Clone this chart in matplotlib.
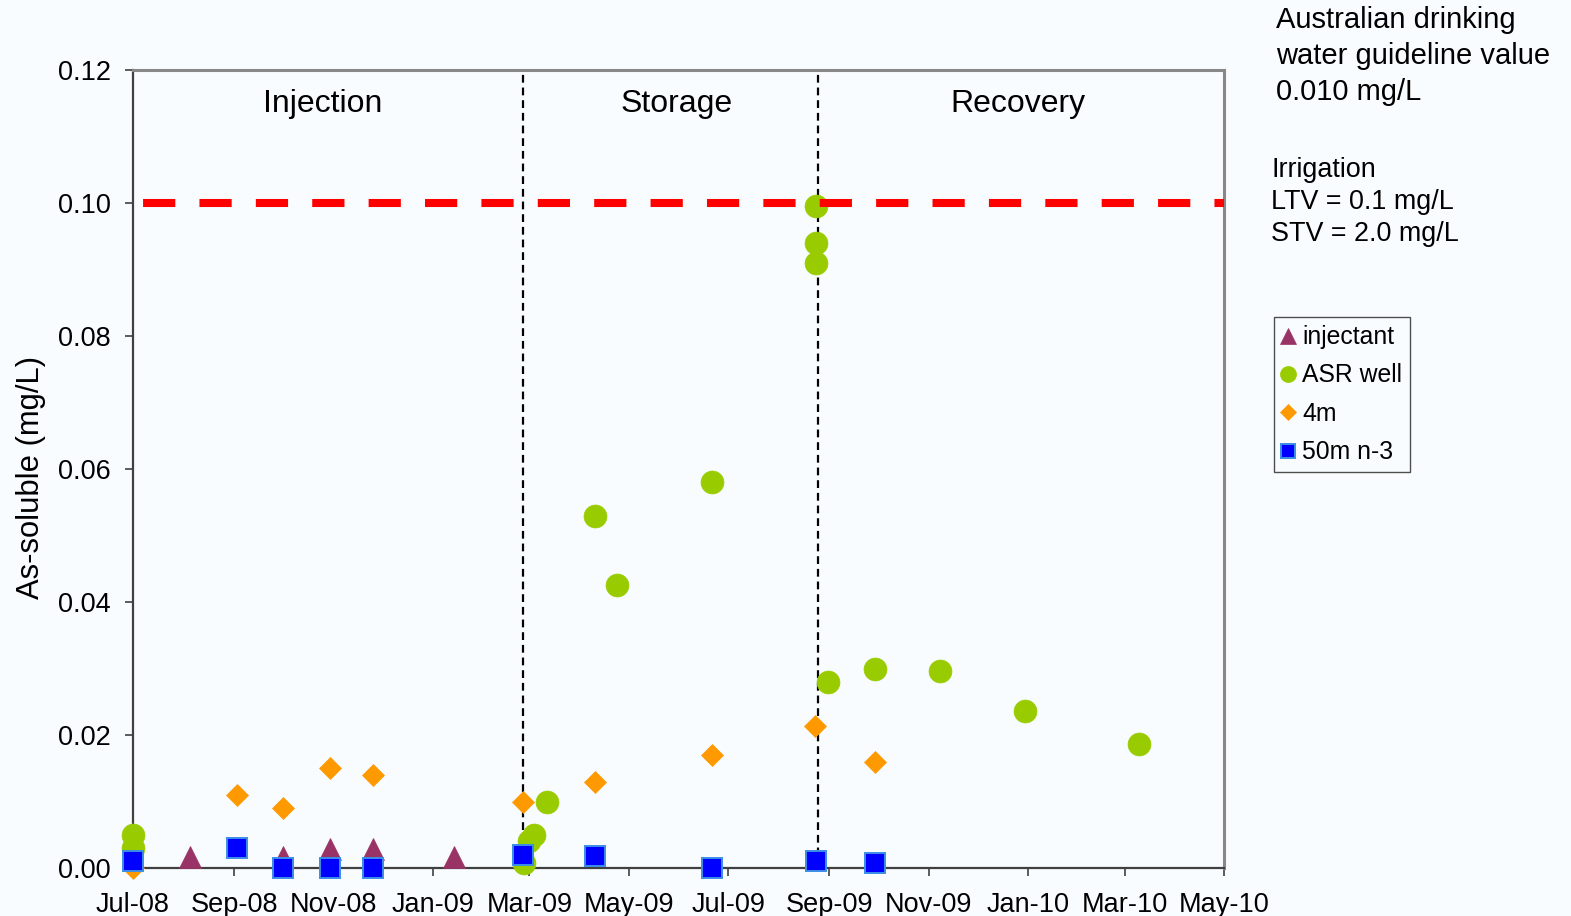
import matplotlib
matplotlib.use("Agg")
import matplotlib.pyplot as plt
import matplotlib.dates as mdates
import numpy as np

plt.rcParams['font.family'] = ['Liberation Sans', 'DejaVu Sans']

# --- data -------------------------------------------------------------
injectant_dates = ["2008-08-05", "2008-10-01", "2008-10-30", "2008-11-25", "2009-01-14"]
injectant_vals = [0.0016, 0.0016, 0.0028, 0.0028, 0.0016]

asr_dates = ["2008-07-01", "2008-07-01", "2009-02-26", "2009-03-01", "2009-03-04",
             "2009-03-12", "2009-04-10", "2009-04-24", "2009-06-21", "2009-08-24",
             "2009-08-24", "2009-08-24", "2009-08-31", "2009-09-29", "2009-11-08",
             "2009-12-30", "2010-03-10"]
asr_vals = [0.005, 0.003, 0.0007, 0.004, 0.005,
            0.010, 0.053, 0.0425, 0.058, 0.0995,
            0.094, 0.091, 0.028, 0.030, 0.0296,
            0.0236, 0.0187]

m4_dates = ["2008-07-01", "2008-09-03", "2008-10-01", "2008-10-30", "2008-11-25",
            "2009-02-25", "2009-04-10", "2009-06-21", "2009-08-23", "2009-09-29"]
m4_vals = [0.0, 0.011, 0.009, 0.015, 0.014,
           0.010, 0.013, 0.017, 0.0213, 0.016]

m50_dates = ["2008-07-01", "2008-09-03", "2008-10-01", "2008-10-30", "2008-11-25",
             "2009-02-25", "2009-04-10", "2009-06-21", "2009-08-24", "2009-09-29"]
m50_vals = [0.001, 0.003, 0.0, 0.0, 0.0,
            0.002, 0.0018, 0.0, 0.001, 0.0008]

phase_bounds = ["2009-02-25", "2009-08-25"]
phase_labels = ["Injection", "Storage", "Recovery"]
irrigation_ltv = 0.10

x_start, x_end = "2008-07-01", "2010-05-01"


def to_dates(lst):
    return [np.datetime64(d) for d in lst]


# --- figure -----------------------------------------------------------
W, H = 1571, 916
fig = plt.figure(figsize=(W / 100, H / 100), dpi=100)
bg = '#f9fcfe'
fig.patch.set_facecolor(bg)
ax = fig.add_axes([133 / W, 1 - 868 / H, (1224 - 133) / W, (868 - 70) / H])
ax.set_facecolor(bg)

# phase boundaries
for d in phase_bounds:
    ax.axvline(np.datetime64(d), color='black', lw=1.6, ls=(0, (3.5, 2.2)), zorder=1)

# series
ax.plot(to_dates(injectant_dates), injectant_vals, ls='none', marker='^', ms=16,
        mfc='#993366', mec='#993366', mew=0.5, label='injectant', zorder=3, clip_on=False)
ax.plot(to_dates(asr_dates), asr_vals, ls='none', marker='o', ms=16.5,
        mfc='#99cc00', mec='#99cc00', mew=0.5, label='ASR well', zorder=4, clip_on=False)
ax.plot(to_dates(m4_dates), m4_vals, ls='none', marker='D', ms=11.5,
        mfc='#ff9900', mec='#ff9900', mew=0.5, label='4m', zorder=5, clip_on=False)
ax.plot(to_dates(m50_dates), m50_vals, ls='none', marker='s', ms=15,
        mfc='#0000ff', mec='#3a8ee6', mew=1.4, label='50m n-3', zorder=6, clip_on=False)

# irrigation long-term trigger value
ax.axhline(irrigation_ltv, color='#ff0000', lw=5.8, ls=(5.75, (4, 3)),
           dash_capstyle='butt', zorder=7)

# axes
ax.set_xlim(np.datetime64(x_start), np.datetime64(x_end))
ax.set_ylim(0, 0.12)
ax.set_yticks(np.arange(0, 0.121, 0.02))
ax.yaxis.set_major_formatter(matplotlib.ticker.FormatStrFormatter('%.2f'))
ax.xaxis.set_major_locator(mdates.MonthLocator(bymonth=[1, 3, 5, 7, 9, 11]))
ax.xaxis.set_major_formatter(mdates.DateFormatter('%b-%y'))
ax.tick_params(axis='both', direction='out', length=6, width=1.2, color='#404040',
               labelsize=19.5, labelcolor='black')
ax.tick_params(axis='y', pad=10)
ax.tick_params(axis='x', pad=11)

for s in ['left', 'bottom']:
    ax.spines[s].set_color('#404040')
    ax.spines[s].set_linewidth(1.6)
for s in ['top', 'right']:
    ax.spines[s].set_color('#888888')
    ax.spines[s].set_linewidth(2.2)

ax.set_ylabel('As-soluble (mg/L)', fontsize=22.3, labelpad=8.5)
ax.yaxis.label.set_y(0.489)

# phase labels
for xf, lab in zip([0.174, 0.498, 0.811], phase_labels):
    ax.text(xf, 0.958, lab, transform=ax.transAxes, ha='center', va='center', fontsize=23)

# guideline notes
fig.text(1276 / W, 1 - 6 / H, 'Australian drinking\nwater guideline value\n0.010 mg/L',
         ha='left', va='top', fontsize=21, linespacing=1.36)
fig.text(1271 / W, 1 - 157 / H, 'Irrigation\nLTV = 0.1 mg/L\nSTV = 2.0 mg/L',
         ha='left', va='top', fontsize=19.4, linespacing=1.29)

# legend
leg = fig.legend(loc='upper left', bbox_to_anchor=(1274 / W, 1 - 317 / H),
                 fontsize=17.8, frameon=True, fancybox=False, markerscale=0.7,
                 handlelength=0.5, handletextpad=0.3, borderpad=0.33,
                 labelspacing=0.58, borderaxespad=0)
leg.get_frame().set_edgecolor('#222222')
leg.get_frame().set_linewidth(1.0)
leg.get_frame().set_facecolor(bg)

fig.savefig('out.png', dpi=100, facecolor=bg)
